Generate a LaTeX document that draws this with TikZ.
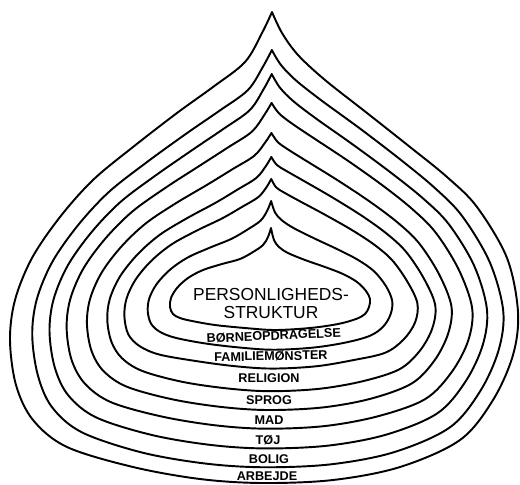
\documentclass[tikz,border=0pt]{standalone}
\usepackage{fontspec}
\setmainfont{Liberation Sans}
\usetikzlibrary{calc}
\begin{document}
\begin{tikzpicture}[x=0.02cm,y=-0.02cm,
  layer/.style={line width=1.1pt, line join=round, line cap=round},
  core/.style={font=\fontsize{9.9}{11}\selectfont, inner sep=0pt, anchor=base},
  lab/.style={font=\bfseries\fontsize{7.2}{8}\selectfont, inner sep=0pt, anchor=base}]
\useasboundingbox (0,0) rectangle (520,484);
% outermost curve
\foreach \k/\x/\y in {0/272/12, 1/262/33, 2/245/62, 3/213/87, 4/177/113, 5/133/147,
  6/93/180, 7/60/217, 8/32/258, 9/15/300, 10/10/340, 11/16/385, 12/33/420, 13/67/447,
  14/133/467, 15/200/479, 16/262/483, 17/333/480, 18/400/467, 19/460/440, 20/493/400,
  21/513/355, 22/518/312, 23/507/258, 24/477/207, 25/447/177, 26/410/147, 27/367/113,
  28/325/80, 29/298/55, 30/282/33}
  \coordinate (O\k) at (\x,\y);
% innermost curve
\foreach \k/\x/\y in {0/271/228, 1/268/237, 2/263/245, 3/253/252, 4/240/259, 5/222/264,
  6/203/270, 7/188/278, 8/177/288, 9/171/298, 10/170/307, 11/173/314, 12/180/318,
  13/192/321, 14/215/325, 15/245/328, 16/275/330, 17/310/328, 18/338/324, 19/356/319,
  20/365/314, 21/369/307, 22/370/299, 23/366/291, 24/357/282, 25/343/274, 26/325/267,
  27/305/260, 28/288/253, 29/279/247, 30/274/240}
  \coordinate (I\k) at (\x,\y);
% the nine layers
\foreach \c/\vP/\vL/\vB/\vR in {1/0/0/0/0, 2/0.176/0.139/0.103/0.1,
  3/0.287/0.247/0.226/0.21, 4/0.421/0.354/0.355/0.31, 5/0.56/0.481/0.477/0.45,
  6/0.671/0.608/0.6/0.56, 7/0.773/0.715/0.748/0.68, 8/0.875/0.861/0.871/0.85,
  9/1/1/1/1}{
  \foreach \k/\wP/\wL/\wB/\wR in {0/1/0/0/0, 1/0.7/0.3/0/0, 2/0.4/0.6/0/0,
    3/0.2/0.8/0/0, 4/0.1/0.9/0/0, 5/0/1/0/0, 6/0/1/0/0, 7/0/1/0/0, 8/0/1/0/0,
    9/0/1/0/0, 10/0/1/0/0, 11/0/1/0/0, 12/0/0.7/0.3/0, 13/0/0.4/0.6/0, 14/0/0/1/0,
    15/0/0/1/0, 16/0/0/1/0, 17/0/0/1/0, 18/0/0/1/0, 19/0/0/0.6/0.4, 20/0/0/0.3/0.7,
    21/0/0/0/1, 22/0/0/0/1, 23/0.3/0/0/0.7, 24/0.3/0/0/0.7, 25/0.2/0/0/0.8,
    26/0.1/0/0/0.9, 27/0.1/0/0/0.9, 28/0.2/0/0/0.8, 29/0.4/0/0/0.6, 30/0.7/0/0/0.3}{
    \pgfmathsetmacro\tk{\wP*\vP+\wL*\vL+\wB*\vB+\wR*\vR}
    \coordinate (q\k) at ($(O\k)!\tk!(I\k)$);
  }
  \draw[layer] plot[smooth, tension=0.55] coordinates {(q0) (q1) (q2) (q3) (q4) (q5)
    (q6) (q7) (q8) (q9) (q10) (q11) (q12) (q13) (q14) (q15) (q16) (q17) (q18) (q19)
    (q20) (q21) (q22) (q23) (q24) (q25) (q26) (q27) (q28) (q29) (q30) (q0)};
}
% labels
\node[core] (p1) at (271,300) {PERSONLIGHEDS-};
\node[core] (p2) at (271,318) {STRUKTUR};
\node[lab, rotate=2.5] (l1) at (274,340) {BØRNEOPDRAGELSE};
\node[lab, rotate=1] (l2) at (271,360.5) {FAMILIEMØNSTER};
\node[lab] (l3) at (269,382) {RELIGION};
\node[lab] (l4) at (269,404) {SPROG};
\node[lab] (l5) at (269,424) {MAD};
\node[lab] (l6) at (268,444) {TØJ};
\node[lab] (l7) at (269,463) {BOLIG};
\node[lab] (l8) at (267,480.5) {ARBEJDE};
\end{tikzpicture}
\end{document}
